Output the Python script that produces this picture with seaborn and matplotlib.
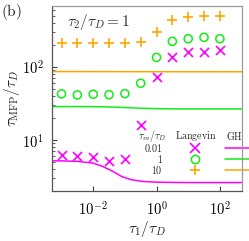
import matplotlib
matplotlib.use("Agg")
import matplotlib.pyplot as plt
import seaborn as sns
import pandas as pd

# ---- data ----
tau1_langevin = [0.001, 0.00316, 0.01, 0.0316, 0.1, 0.316, 1.0, 3.16, 10.0, 31.6, 100.0]
lang_001 = [6.24, 6.10, 5.92, 5.18, 5.45, 16.0, 71.7, 134, 157, 160, 168]
lang_1 = [42.5, 41.1, 42.0, 41.5, 42.8, 59.4, 134, 222, 241, 252, 241]
lang_10 = [208, 208, 208, 208, 208, 215, 294, 433, 481, 496, 496]

tau1_gh = [5e-4, 1e-3, 3.16e-3, 1e-2, 2e-2, 4e-2, 8e-2, 0.16, 0.37, 1.0, 3.16, 10.0, 100.0, 500.0]
gh_001 = [5.17, 5.16, 5.08, 4.81, 4.33, 3.75, 3.15, 2.85, 2.70, 2.64, 2.62, 2.61, 2.61, 2.61]
gh_1 = [28.5, 28.5, 28.5, 28.4, 28.3, 28.1, 27.8, 27.4, 27.0, 26.7, 26.5, 26.5, 26.5, 26.5]
gh_10 = [85.8, 85.8, 85.8, 85.7, 85.7, 85.6, 85.6, 85.5, 85.5, 85.4, 85.4, 85.3, 85.3, 85.3]

tau_m_labels = ["0.01", "1", "10"]
colors = ["#ff00ff", "#11ee11", "#ffa500"]
markers = ["x", "o", "+"]

xticks = [1e-2, 1e0, 1e2]
xticklabels = [r"$10^{-2}$", r"$10^{0}$", r"$10^{2}$"]
yticks = [1e1, 1e2]
yticklabels = [r"$10^{1}$", r"$10^{2}$"]

# ---- style ----
sns.set_style("ticks")
plt.rcParams["mathtext.fontset"] = "cm"
plt.rcParams["font.family"] = ["cmr10", "DejaVu Serif"]
plt.rcParams["axes.unicode_minus"] = False

fig = plt.figure(figsize=(2.49, 2.41), dpi=100)
ax = fig.add_axes([0.2088, 0.2075, 0.7631, 0.7675])

lang_df = pd.DataFrame({"tau1": tau1_langevin * 3,
                        "tau": lang_001 + lang_1 + lang_10,
                        "tm": sum([[l] * len(tau1_langevin) for l in tau_m_labels], [])})
gh_df = pd.DataFrame({"tau1": tau1_gh * 3,
                      "tau": gh_001 + gh_1 + gh_10,
                      "tm": sum([[l] * len(tau1_gh) for l in tau_m_labels], [])})

for lab, c, m in zip(tau_m_labels, colors, markers):
    sub = gh_df[gh_df.tm == lab]
    sns.lineplot(data=sub, x="tau1", y="tau", color=c, lw=1.1, ax=ax, legend=False)
for lab, c, m in zip(tau_m_labels, colors, markers):
    sub = lang_df[lang_df.tm == lab]
    if m == "o":
        sns.scatterplot(data=sub, x="tau1", y="tau", marker="o", s=34,
                        facecolors="none", edgecolor=c, linewidth=1.1, ax=ax, legend=False)
    else:
        sns.scatterplot(data=sub, x="tau1", y="tau", marker=m, s=42,
                        color=c, linewidth=1.2, ax=ax, legend=False)

ax.set_xscale("log")
ax.set_yscale("log")
ax.set_xlim(5e-4, 500)
ax.set_ylim(2.0, 675)
ax.set_xticks(xticks)
ax.set_xticklabels(xticklabels)
ax.set_yticks(yticks)
ax.set_yticklabels(yticklabels)
ax.tick_params(which="both", direction="in", colors="#444444", labelcolor="black",
               labelsize=10.5, top=False, right=False)
ax.tick_params(which="major", length=3.5, width=0.8, pad=6)
ax.tick_params(which="minor", length=2, width=0.6)
ax.tick_params(axis="x", which="minor", bottom=False)
for sp in ax.spines.values():
    sp.set_color("#555555")
    sp.set_linewidth(0.9)
for sp in ["top", "right"]:
    ax.spines[sp].set_color("#999999")

ax.set_xlabel(r"$\tau_1/\tau_D$", fontsize=11, labelpad=1)
ax.set_ylabel(r"$\tau_{\mathrm{MFP}}/\tau_D$", fontsize=11, labelpad=0)

ax.text(0.242, 0.915, r"$\tau_2/\tau_D = 1$", transform=ax.transAxes,
        ha="center", va="center", fontsize=11, color="#333333")
fig.text(0.005, 0.951, r"$\mathrm{(b)}$", ha="left", va="center", fontsize=11)

# table-style legend
fs = 7.2
ax.text(0.529, 0.299, r"$\tau_m/\tau_D$", transform=ax.transAxes, ha="center", va="center", fontsize=fs)
ax.text(0.758, 0.296, r"$\mathrm{Langevin}$", transform=ax.transAxes, ha="center", va="center", fontsize=fs)
ax.text(0.9605, 0.296, r"$\mathrm{GH}$", transform=ax.transAxes, ha="center", va="center", fontsize=fs,
        clip_on=False)
rows_y = [0.2308, 0.171, 0.1135]
for lab, c, m, yy in zip(tau_m_labels, colors, markers, rows_y):
    ax.text(0.5826, yy, r"$\mathrm{%s}$" % lab, transform=ax.transAxes, ha="right", va="center", fontsize=fs)
    if m == "o":
        ax.plot([0.7526], [yy], marker="o", ms=6, mfc="none", mec=c, mew=1.1,
                transform=ax.transAxes, clip_on=False, ls="none")
    else:
        ax.plot([0.7526], [yy], marker=m, ms=6.5, color=c, mew=1.2,
                transform=ax.transAxes, clip_on=False, ls="none")
    ax.plot([0.9105, 1.06], [yy, yy], color=c, lw=1.1, transform=ax.transAxes, clip_on=False)

fig.savefig("out.png", dpi=100)
